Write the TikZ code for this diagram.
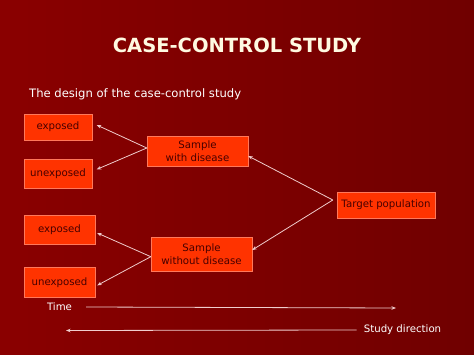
\documentclass[tikz,border=0pt]{standalone}
\usepackage{fontspec}
\setmainfont{DejaVu Sans}
\usetikzlibrary{arrows.meta,positioning}
\definecolor{bgleft}{RGB}{138,0,0}
\definecolor{bgright}{RGB}{112,0,0}
\definecolor{boxfill}{RGB}{255,51,0}
\definecolor{boxline}{RGB}{255,120,90}
\definecolor{boxtext}{RGB}{70,0,0}
\definecolor{linkcol}{RGB}{240,205,205}
\definecolor{titlecol}{RGB}{255,250,225}

\begin{document}
\begin{tikzpicture}[
    x=1pt, y=-1pt,
    font=\fontsize{10.2}{13.5}\selectfont,
    >={Stealth[length=4.5pt,width=3.5pt]},
    box/.style={rectangle, draw=boxline, fill=boxfill, text=boxtext, align=center, inner sep=1pt},
    link/.style={draw=linkcol, line width=0.8pt, ->},
    label/.style={text=white, inner sep=1pt}
]
\shade[left color=bgleft, right color=bgright] (0,0) rectangle (474,355);

\node[font=\bfseries\fontsize{19.5}{22}\selectfont, text=titlecol] (title) at (237,45) {CASE-CONTROL STUDY};
\node[label, anchor=west, font=\fontsize{11.6}{13}\selectfont] (design) at (28,94) {The design of the case-control study};

\node[box, minimum width=68pt, minimum height=26pt] (exp1) at (58,127) {exposed};
\node[box, minimum width=68pt, minimum height=29pt, below=19pt of exp1] (unexp1) {unexposed};
\node[box, minimum width=101pt, minimum height=30pt] (withd) at (197.5,151) {Sample\\with disease};
\node[box, minimum width=71pt, minimum height=29pt] (exp2) at (59.5,229.5) {exposed};
\node[box, minimum width=71pt, minimum height=30pt, below=23pt of exp2] (unexp2) {unexposed};
\node[box, minimum width=101pt, minimum height=34pt] (withoutd) at (201.5,254) {Sample\\without disease};
\node[box, minimum width=98pt, minimum height=26pt] (target) at (386,205) {Target population};

% target population to both samples
\draw[link] ([xshift=-4pt,yshift=5pt]target.west) -- ([yshift=-5pt]withd.east);
\draw[link] ([xshift=-4pt,yshift=5pt]target.west) -- ([yshift=4pt]withoutd.east);

% samples to exposure groups
\foreach \x/\s in {exp1/2pt, unexp1/4.5pt}
    \draw[link] ([yshift=3pt]withd.west) -- ([xshift=4.5pt,yshift=\s]\x.east);
\foreach \x/\s in {exp2/-3.5pt, unexp2/-3pt}
    \draw[link] ([yshift=-2.7pt]withoutd.west) -- ([xshift=2pt,yshift=\s]\x.east);

\node[label] (time) at (59.5,307) {Time};
\coordinate (timeend) at (396,308);
\draw[link] ([xshift=13pt]time.east) -- (timeend);

\node[label] (study) at (402.5,330) {Study direction};
\coordinate (studyend) at (66,330.5);
\draw[link] ([xshift=-6pt]study.west) -- (studyend);
\end{tikzpicture}
\end{document}
